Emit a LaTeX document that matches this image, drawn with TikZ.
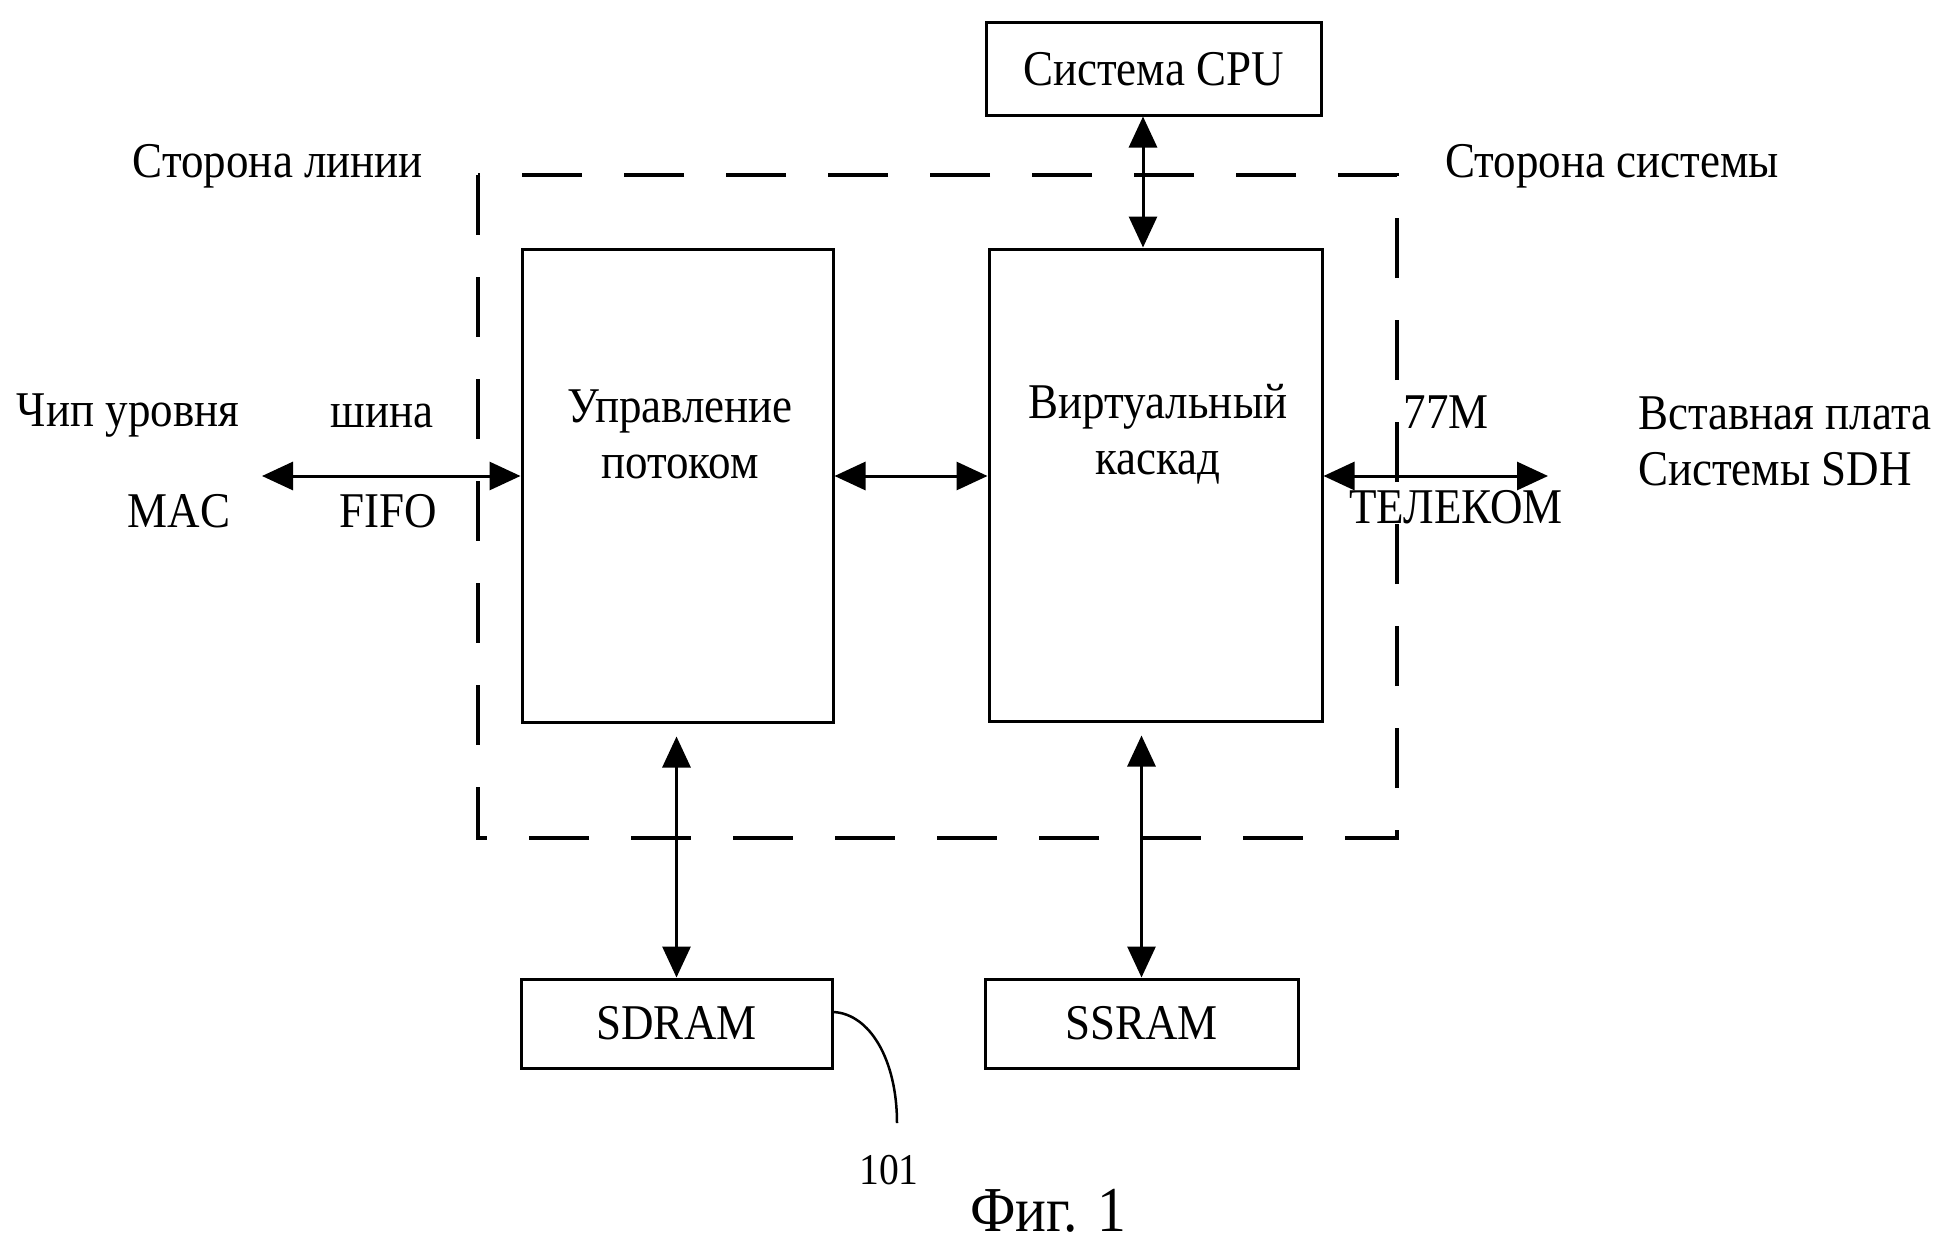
\documentclass[tikz,border=0pt]{standalone}
\usepackage{fontspec}
\setmainfont{Liberation Serif}[FakeStretch=0.9]
\usetikzlibrary{arrows.meta,calc}
\begin{document}
\begin{tikzpicture}[x=1pt,y=-1pt,
  box/.style={draw, line width=3pt, inner sep=0pt},
  txt/.style={font=\fontsize{50}{56}\selectfont, inner sep=0pt, align=center},
  conn/.style={line width=3pt, {Triangle[length=31pt,width=28pt]}-{Triangle[length=31pt,width=28pt]}},
  frame/.style={line width=4pt, dash pattern=on 60pt off 42pt}]
\useasboundingbox (0,0) rectangle (1948,1247);
% boxes
\node[box, minimum width=311pt, minimum height=473pt] (flow) at (677.5,485.5) {};
\node[box, minimum width=333pt, minimum height=472pt] (vc) at (1155.5,485) {};
\node[box, minimum width=335pt, minimum height=92pt] (cpu) at (1153.5,69) {};
\node[box, minimum width=311pt, minimum height=89pt] (sdram) at (676.5,1023.5) {};
\node[box, minimum width=313pt, minimum height=89pt] (ssram) at (1141.5,1023.5) {};
% dashed frame
\draw[frame] (478,175) -- (478,838) -- (1397,838) -- (1397,175) -- cycle;
% texts
\node[txt] at (680,434) {Управление\\потоком};
\node[txt] at (1158,434) {Виртуальный\\каскад};
\node[txt] at (cpu.center) {Система CPU};
\node[txt] at (sdram.center) {SDRAM};
\node[txt] at (ssram.center) {SSRAM};
\node[txt] (lside) at (278,166) {Сторона линии};
\node[txt] (sside) at (1612,166) {Сторона системы};
\node[txt] (chip) at (128,416) {Чип уровня};
\node[txt] (bus) at (382,416) {шина};
\node[txt] (mac) at (179,511) {MAC};
\node[txt] (fifo) at (388,511) {FIFO};
\node[txt] (m77) at (1446,412) {77M};
\node[txt] (tel) at (1456,507) {ТЕЛЕКОМ};
\node[txt, align=left, anchor=west] (sdh) at (1638,441) {Вставная плата\\Системы SDH};
\node[font=\fontsize{44}{50}\selectfont, inner sep=0pt] (ref) at (889,1170) {101};
\node[font=\fontsize{64}{70}\selectfont, inner sep=0pt] (fig) at (1048,1211) {Фиг. 1};
% coordinates
\coordinate (macend) at (262,476);
\coordinate (sdhend) at (1548,476);
\coordinate (flowin) at (flow.west |- macend);
\coordinate (vcout) at (vc.east |- macend);
\coordinate (flowout) at (flow.east |- macend);
\coordinate (vcin) at (vc.west |- macend);
\coordinate (cpuarr) at (1143,115);
\coordinate (sdramtop) at (sdram.north);
\coordinate (flowbot) at ($(sdram.north |- flow.south)+(0,13)$);
\coordinate (ssramtop) at (ssram.north);
\coordinate (vcbot) at ($(ssram.north |- vc.south)+(0,13)$);
\coordinate (leadstart) at (sdram.east |- 0,1012);
\coordinate (leadend) at (897,1123);
% connectors
\draw[conn] (macend) -- (flowin);
\draw[conn] (flowout) -- (vcin);
\draw[conn] (vcout) -- (sdhend);
\draw[conn] (cpu.south -| cpuarr) -- (vc.north -| cpuarr);
\draw[conn] (flowbot) -- (sdramtop);
\draw[conn] (vcbot) -- (ssramtop);
\draw[line width=2.5pt] (leadstart) .. controls (870,1014) and (897,1060) .. (leadend);
\end{tikzpicture}
\end{document}
